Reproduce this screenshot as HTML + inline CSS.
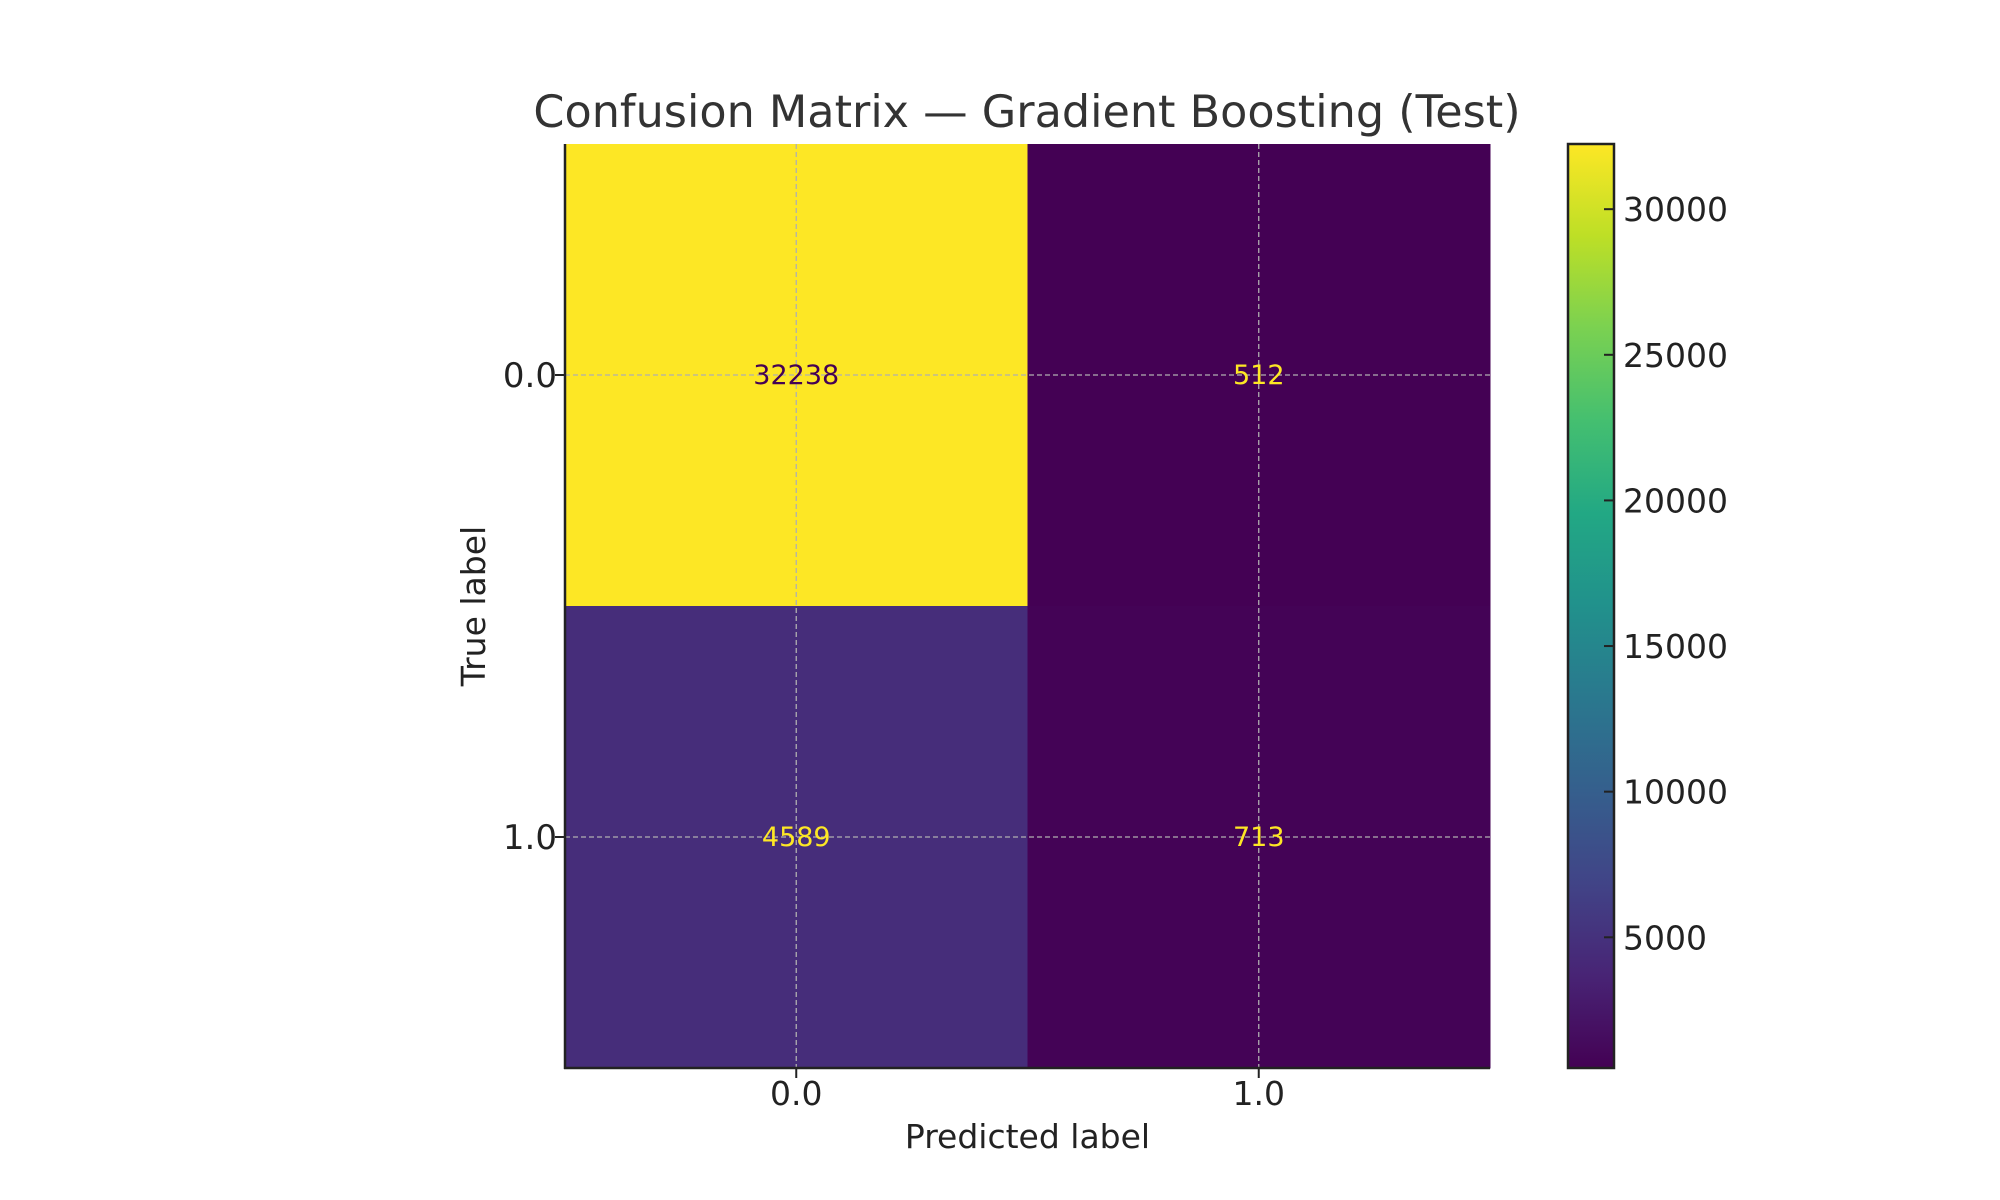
<!DOCTYPE html>
<html><head><meta charset="utf-8"><style>
html,body{margin:0;padding:0;background:#fff;}
svg{display:block;font-family:"DejaVu Sans","Liberation Sans",sans-serif;}
</style></head><body>
<svg id="chart" width="2000" height="1200" viewBox="0 0 2000 1200" xmlns="http://www.w3.org/2000/svg">
<defs><linearGradient id="vir" x1="0" y1="1" x2="0" y2="0"></linearGradient></defs>
<text x="1027" y="127" font-size="44.5" fill="#333" text-anchor="middle">Confusion Matrix — Gradient Boosting (Test)</text>
<g id="cells"></g><g id="grid"></g><g id="labels"></g><g id="axes"></g><g id="cbar"></g>
</svg>
<script>
const rowCats = ["0.0","1.0"];
const colCats = ["0.0","1.0"];
const row0 = [32238, 512];
const row1 = [4589, 713];
const cbTicks = [5000,10000,15000,20000,25000,30000];
const values=[row0,row1];
const NS="http://www.w3.org/2000/svg";
const L=565,R=1490,T=144,B=1068;
const vmin=Math.min(...values.flat()), vmax=Math.max(...values.flat());
const vir=["#440154","#482475","#414487","#355f8d","#2a788e","#21918c","#22a884","#44bf70","#7ad151","#bddf26","#fde725"];
function hex(h){return [1,3,5].map(i=>parseInt(h.substr(i,2),16));}
function cmap(t){t=Math.max(0,Math.min(1,t));const f=t*(vir.length-1),i=Math.min(vir.length-2,Math.floor(f)),u=f-i;const a=hex(vir[i]),b=hex(vir[i+1]);return "rgb("+a.map((c,k)=>Math.round(c+(b[k]-c)*u)).join(",")+")";}
const cw=(R-L)/colCats.length, ch=(B-T)/rowCats.length;
function xC(j){return L+cw*(j+0.5);} function yC(i){return T+ch*(i+0.5);}
function mk(tag,attrs,parent){const e=document.createElementNS(NS,tag);for(const k in attrs)e.setAttribute(k,attrs[k]);document.getElementById(parent).appendChild(e);return e;}
values.forEach((row,i)=>row.forEach((v,j)=>{
  const r=mk("rect",{x:L+cw*j,y:T+ch*i,width:cw+0.5,height:ch+0.5,fill:cmap((v-vmin)/(vmax-vmin))},"cells");
  
  
  const t=mk("text",{x:xC(j),y:yC(i)+9,"font-size":27,"text-anchor":"middle",fill:(v-vmin)/(vmax-vmin)>0.5?"#440154":"#fde725"},"labels");
  t.textContent=v;
  
  
}));
colCats.forEach((c,j)=>{
  const g=mk("line",{x1:xC(j),x2:xC(j),y1:T,y2:B,stroke:"#b0b0b0","stroke-width":1.3,"stroke-dasharray":"5,3"},"grid");
  
  
  mk("line",{x1:xC(j),x2:xC(j),y1:B,y2:B+10,stroke:"#222","stroke-width":2},"axes");
  const t=mk("text",{x:xC(j),y:B+37,"font-size":33,"text-anchor":"middle",fill:"#222"},"axes");
  t.textContent=c;
  
  
});
rowCats.forEach((c,i)=>{
  const g=mk("line",{x1:L,x2:R,y1:yC(i),y2:yC(i),stroke:"#b0b0b0","stroke-width":1.3,"stroke-dasharray":"5,3"},"grid");
  
  
  mk("line",{x1:L-10,x2:L,y1:yC(i),y2:yC(i),stroke:"#222","stroke-width":2},"axes");
  const t=mk("text",{x:L-8,y:yC(i)+12,"font-size":34,"text-anchor":"end",fill:"#222"},"axes");
  t.textContent=c;
  
  
});
mk("line",{x1:L,x2:L,y1:T,y2:B+1,stroke:"#222","stroke-width":2.5},"axes");
mk("line",{x1:L-1,x2:R,y1:B,y2:B,stroke:"#222","stroke-width":2.5},"axes");
let t=mk("text",{x:(L+R)/2,y:1148,"font-size":33,"text-anchor":"middle",fill:"#222"},"axes");t.textContent="Predicted label";


t=mk("text",{x:0,y:0,"font-size":33,"text-anchor":"middle",fill:"#222",transform:"translate(485,606) rotate(-90)"},"axes");t.textContent="True label";


const grad=document.getElementById("vir");
vir.forEach((c,k)=>{const s=document.createElementNS(NS,"stop");s.setAttribute("offset",k/(vir.length-1));s.setAttribute("stop-color",c);grad.appendChild(s);});
const CL=1568,CR=1614;
function cy(v){return B-(v-vmin)/(vmax-vmin)*(B-T);}
const cb=mk("rect",{x:CL,y:T,width:CR-CL,height:B-T,fill:"url(#vir)",stroke:"#222","stroke-width":2.5},"cbar");


cbTicks.forEach(v=>{
  mk("line",{x1:CR-10,x2:CR,y1:cy(v),y2:cy(v),stroke:"#222","stroke-width":2},"cbar");
  const tt=mk("text",{x:CR+9,y:cy(v)+12,"font-size":33,fill:"#222"},"cbar");
  tt.textContent=v;
  
  
});
</script>
</body></html>
